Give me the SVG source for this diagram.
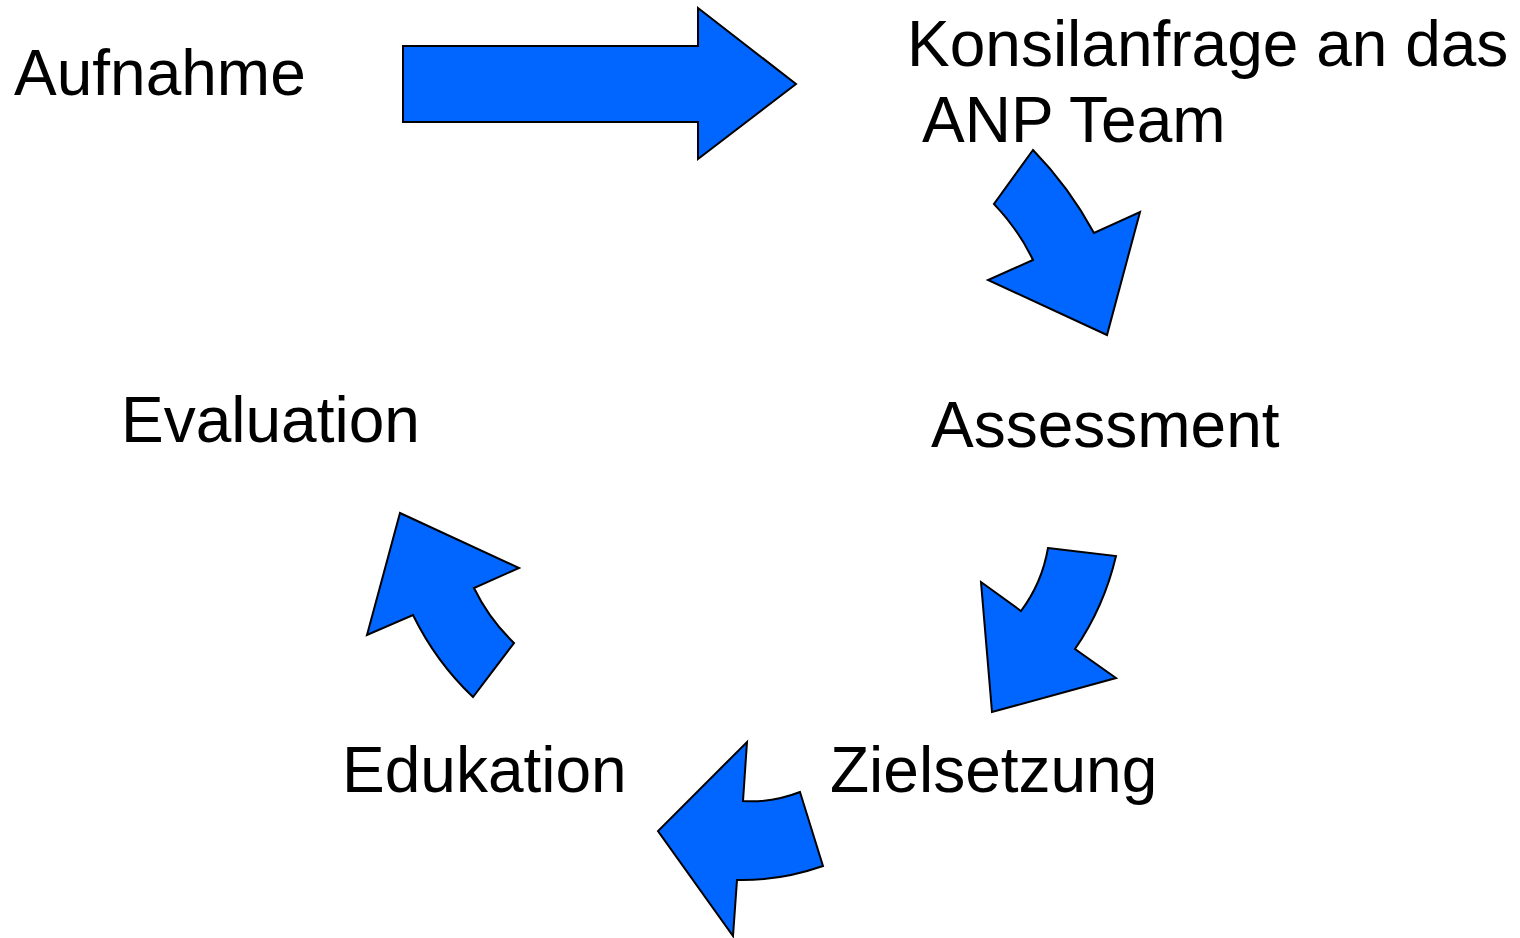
<svg xmlns="http://www.w3.org/2000/svg" width="1520" height="938" viewBox="0 0 1520 938">
<style>
.arrow{fill:#0066ff;stroke:#000;stroke-width:2;stroke-linejoin:miter}
.lbl{font-family:"Liberation Sans",Arial,sans-serif;font-size:64px;fill:#000}
</style>
<rect width="1520" height="938" fill="#fff"/>
<g id="connectors">
<path class="arrow" d="M403,46 L698,46 L698,8 L796,84 L698,159 L698,122 L403,122 Z"/>
<path class="arrow" d="M1033,150 Q1069,187 1094,233 L1140,212 L1107,335 L988,280 L1033,260 Q1018,229 994,204 Z"/>
<path class="arrow" d="M1048,548 L1116,556 Q1104,607 1075,649 L1116,678 L992,712 L981,582 L1021,611 Q1042,583 1048,548 Z"/>
<path class="arrow" d="M747,742 L743,801 Q772,803 800,792 L823,866 Q780,881 737,880 L733,936 L658,831 Z"/>
<path class="arrow" d="M400,513 L519,568 L474,588 Q489,619 514,643 L473,697 Q436,662 413,615 L367,635 Z"/>
</g>
<g id="aufnahme"><text class="lbl" x="14" y="95">Aufnahme</text></g>
<g id="konsil"><text class="lbl" x="907" y="66">Konsilanfrage an das</text><text class="lbl" x="922" y="142">ANP Team</text></g>
<g id="assessment"><text class="lbl" x="931" y="447">Assessment</text></g>
<g id="evaluation"><text class="lbl" x="121" y="442">Evaluation</text></g>
<g id="edukation"><text class="lbl" x="342" y="792">Edukation</text></g>
<g id="zielsetzung"><text class="lbl" x="830" y="792">Zielsetzung</text></g>
</svg>
